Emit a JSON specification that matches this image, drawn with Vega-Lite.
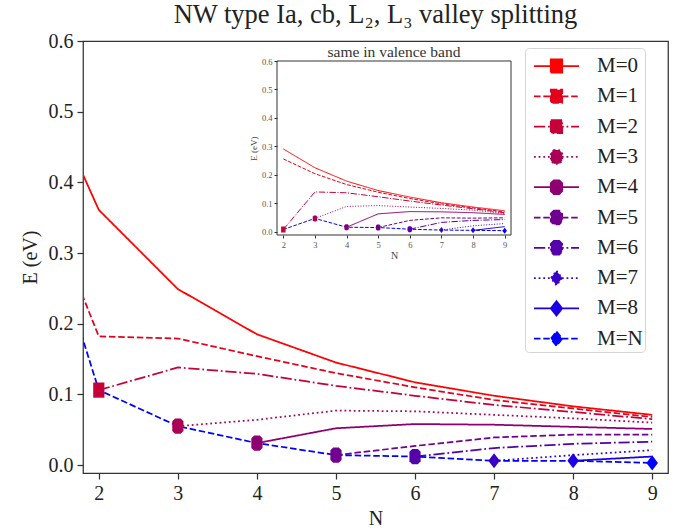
{
  "$schema": "https://vega.github.io/schema/vega-lite/v6.json",
  "autosize": "none",
  "width": 585,
  "height": 432,
  "padding": {"left": 83, "top": 41, "right": 14, "bottom": 58},
  "background": "white",
  "title": {"text": "NW type Ia, cb, L₂, L₃ valley splitting", "font": "Liberation Serif", "fontSize": 26.5, "fontWeight": "normal", "color": "#222", "offset": -18, "baseline": "alphabetic", "anchor": "middle", "frame": "group"},
  "config": {"view": {"stroke": "#333", "strokeWidth": 1.25}, "font": "Liberation Serif"},
  "datasets": {
    "cb": [
      {"M": "M=0", "N": 1, "E": 0.61}, {"M": "M=0", "N": 2, "E": 0.361}, {"M": "M=0", "N": 3, "E": 0.249}, {"M": "M=0", "N": 4, "E": 0.185}, {"M": "M=0", "N": 5, "E": 0.145}, {"M": "M=0", "N": 6, "E": 0.117}, {"M": "M=0", "N": 7, "E": 0.098}, {"M": "M=0", "N": 8, "E": 0.083}, {"M": "M=0", "N": 9, "E": 0.071},
      {"M": "M=1", "N": 1, "E": 0.462}, {"M": "M=1", "N": 2, "E": 0.182}, {"M": "M=1", "N": 3, "E": 0.179}, {"M": "M=1", "N": 4, "E": 0.154}, {"M": "M=1", "N": 5, "E": 0.130}, {"M": "M=1", "N": 6, "E": 0.110}, {"M": "M=1", "N": 7, "E": 0.092}, {"M": "M=1", "N": 8, "E": 0.080}, {"M": "M=1", "N": 9, "E": 0.068},
      {"M": "M=2", "N": 2, "E": 0.106}, {"M": "M=2", "N": 3, "E": 0.138}, {"M": "M=2", "N": 4, "E": 0.129}, {"M": "M=2", "N": 5, "E": 0.112}, {"M": "M=2", "N": 6, "E": 0.098}, {"M": "M=2", "N": 7, "E": 0.085}, {"M": "M=2", "N": 8, "E": 0.075}, {"M": "M=2", "N": 9, "E": 0.065},
      {"M": "M=3", "N": 3, "E": 0.055}, {"M": "M=3", "N": 4, "E": 0.064}, {"M": "M=3", "N": 5, "E": 0.077}, {"M": "M=3", "N": 6, "E": 0.076}, {"M": "M=3", "N": 7, "E": 0.071}, {"M": "M=3", "N": 8, "E": 0.066}, {"M": "M=3", "N": 9, "E": 0.060},
      {"M": "M=4", "N": 4, "E": 0.031}, {"M": "M=4", "N": 5, "E": 0.052}, {"M": "M=4", "N": 6, "E": 0.058}, {"M": "M=4", "N": 7, "E": 0.057}, {"M": "M=4", "N": 8, "E": 0.054}, {"M": "M=4", "N": 9, "E": 0.051},
      {"M": "M=5", "N": 5, "E": 0.014}, {"M": "M=5", "N": 6, "E": 0.027}, {"M": "M=5", "N": 7, "E": 0.039}, {"M": "M=5", "N": 8, "E": 0.043}, {"M": "M=5", "N": 9, "E": 0.043},
      {"M": "M=6", "N": 6, "E": 0.012}, {"M": "M=6", "N": 7, "E": 0.024}, {"M": "M=6", "N": 8, "E": 0.030}, {"M": "M=6", "N": 9, "E": 0.033},
      {"M": "M=7", "N": 7, "E": 0.006}, {"M": "M=7", "N": 8, "E": 0.014}, {"M": "M=7", "N": 9, "E": 0.021},
      {"M": "M=8", "N": 8, "E": 0.006}, {"M": "M=8", "N": 9, "E": 0.012},
      {"M": "M=N", "N": 1, "E": 0.462}, {"M": "M=N", "N": 2, "E": 0.106}, {"M": "M=N", "N": 3, "E": 0.055}, {"M": "M=N", "N": 4, "E": 0.031}, {"M": "M=N", "N": 5, "E": 0.014}, {"M": "M=N", "N": 6, "E": 0.012}, {"M": "M=N", "N": 7, "E": 0.006}, {"M": "M=N", "N": 8, "E": 0.006}, {"M": "M=N", "N": 9, "E": 0.003}
    ],
    "vb": [
      {"M": "M=0", "N": 2, "E": 0.291}, {"M": "M=0", "N": 3, "E": 0.225}, {"M": "M=0", "N": 4, "E": 0.178}, {"M": "M=0", "N": 5, "E": 0.145}, {"M": "M=0", "N": 6, "E": 0.122}, {"M": "M=0", "N": 7, "E": 0.102}, {"M": "M=0", "N": 8, "E": 0.087}, {"M": "M=0", "N": 9, "E": 0.074},
      {"M": "M=1", "N": 2, "E": 0.256}, {"M": "M=1", "N": 3, "E": 0.204}, {"M": "M=1", "N": 4, "E": 0.166}, {"M": "M=1", "N": 5, "E": 0.139}, {"M": "M=1", "N": 6, "E": 0.117}, {"M": "M=1", "N": 7, "E": 0.098}, {"M": "M=1", "N": 8, "E": 0.084}, {"M": "M=1", "N": 9, "E": 0.070},
      {"M": "M=2", "N": 2, "E": 0.008}, {"M": "M=2", "N": 3, "E": 0.140}, {"M": "M=2", "N": 4, "E": 0.137}, {"M": "M=2", "N": 5, "E": 0.123}, {"M": "M=2", "N": 6, "E": 0.108}, {"M": "M=2", "N": 7, "E": 0.094}, {"M": "M=2", "N": 8, "E": 0.081}, {"M": "M=2", "N": 9, "E": 0.067},
      {"M": "M=3", "N": 3, "E": 0.047}, {"M": "M=3", "N": 4, "E": 0.089}, {"M": "M=3", "N": 5, "E": 0.092}, {"M": "M=3", "N": 6, "E": 0.087}, {"M": "M=3", "N": 7, "E": 0.082}, {"M": "M=3", "N": 8, "E": 0.076}, {"M": "M=3", "N": 9, "E": 0.064},
      {"M": "M=4", "N": 4, "E": 0.016}, {"M": "M=4", "N": 5, "E": 0.063}, {"M": "M=4", "N": 6, "E": 0.071}, {"M": "M=4", "N": 7, "E": 0.070}, {"M": "M=4", "N": 8, "E": 0.067}, {"M": "M=4", "N": 9, "E": 0.061},
      {"M": "M=5", "N": 5, "E": 0.015}, {"M": "M=5", "N": 6, "E": 0.040}, {"M": "M=5", "N": 7, "E": 0.049}, {"M": "M=5", "N": 8, "E": 0.048}, {"M": "M=5", "N": 9, "E": 0.049},
      {"M": "M=6", "N": 6, "E": 0.009}, {"M": "M=6", "N": 7, "E": 0.033}, {"M": "M=6", "N": 8, "E": 0.040}, {"M": "M=6", "N": 9, "E": 0.043},
      {"M": "M=7", "N": 7, "E": 0.006}, {"M": "M=7", "N": 8, "E": 0.021}, {"M": "M=7", "N": 9, "E": 0.029},
      {"M": "M=8", "N": 8, "E": 0.005}, {"M": "M=8", "N": 9, "E": 0.018},
      {"M": "M=N", "N": 2, "E": 0.008}, {"M": "M=N", "N": 3, "E": 0.047}, {"M": "M=N", "N": 4, "E": 0.016}, {"M": "M=N", "N": 5, "E": 0.015}, {"M": "M=N", "N": 6, "E": 0.009}, {"M": "M=N", "N": 7, "E": 0.006}, {"M": "M=N", "N": 8, "E": 0.005}, {"M": "M=N", "N": 9, "E": 0.004}
    ]
  },
  "resolve": {
    "scale": {"x": "independent", "y": "independent", "color": "independent", "strokeDash": "independent"},
    "axis": {"x": "independent", "y": "independent"}
  },
  "layer": [
    {
      "name": "main",
      "data": {"name": "cb"},
      "encoding": {
        "x": {"field": "N", "type": "quantitative",
          "scale": {"domain": [1.8, 9.2], "nice": false, "zero": false},
          "axis": {"values": [2, 3, 4, 5, 6, 7, 8, 9], "format": "d", "title": "N", "grid": false, "domain": false,
            "labelFontSize": 20, "titleFontSize": 20, "titleFontWeight": "normal", "labelColor": "#222", "titleColor": "#222",
            "tickSize": 6, "tickWidth": 1.25, "tickColor": "#333", "labelPadding": 4, "titlePadding": 5, "labelFont": "Liberation Serif", "titleFont": "Liberation Serif"}},
        "y": {"field": "E", "type": "quantitative",
          "scale": {"domain": [-0.0113, 0.6], "nice": false, "zero": false},
          "axis": {"values": [0, 0.1, 0.2, 0.3, 0.4, 0.5, 0.6], "format": ".1f", "title": "E (eV)", "grid": false, "domain": false,
            "labelFontSize": 20, "titleFontSize": 20, "titleFontWeight": "normal", "labelColor": "#222", "titleColor": "#222",
            "tickSize": 6, "tickWidth": 1.25, "tickColor": "#333", "labelPadding": 4, "titlePadding": 8, "labelFont": "Liberation Serif", "titleFont": "Liberation Serif"}},
        "color": {"field": "M", "type": "nominal",
          "scale": {"domain": ["M=0", "M=1", "M=2", "M=3", "M=4", "M=5", "M=6", "M=7", "M=8", "M=N"],
                    "range": ["#ff0000", "#e3001c", "#c60039", "#aa0055", "#8e0071", "#71008e", "#5500aa", "#3900c6", "#1c00e3", "#0000ff"]},
          "legend": {
            "orient": "none", "legendX": 442, "legendY": 7, "title": null,
            "symbolSize": 900, "symbolStrokeWidth": 1.75, "symbolType": "M-0.6,0H2.4M0.54,-0.44H1.26V0.44H0.54Z",
            "labelFontSize": 21, "labelFont": "Liberation Serif", "labelColor": "#222", "labelOffset": 38,
            "padding": 2, "rowPadding": 3.3,
            "fillColor": "white", "strokeColor": "#d5d5d5", "cornerRadius": 4,
            "encode": {"symbols": {"update": {
              "shape": {"signal": "indexof(['M=0','M=1','M=2'], datum.value) >= 0 ? 'M-0.6,0H2.4M0.52,-0.44H1.28V0.44H0.52Z' : (indexof(['M=3','M=4','M=5','M=6'], datum.value) >= 0 ? 'M-0.6,0H2.4M0.72,-0.46H1.08L1.28,-0.26V0.26L1.08,0.46H0.72L0.52,0.26V-0.26Z' : 'M-0.6,0H2.4M0.9,-0.48L1.28,0L0.9,0.48L0.52,0Z')"},
              "fill": {"signal": "['#ff0000','#e3001c','#c60039','#aa0055','#8e0071','#71008e','#5500aa','#3900c6','#1c00e3','#0000ff'][indexof(['M=0','M=1','M=2','M=3','M=4','M=5','M=6','M=7','M=8','M=N'], datum.value)]"},
              "fillOpacity": {"value": 1}
            }}}
          }}
      },
      "layer": [
        {
          "mark": {"type": "line", "clip": true, "strokeWidth": 1.75},
          "encoding": {
            "strokeDash": {"field": "M", "type": "nominal",
              "scale": {"domain": ["M=0", "M=1", "M=2", "M=3", "M=4", "M=5", "M=6", "M=7", "M=8", "M=N"],
                        "range": [[1, 0], [6.5, 2.8], [11.2, 2.8, 1.75, 2.8], [1.75, 2.9], [1, 0], [6.5, 2.8], [11.2, 2.8, 1.75, 2.8], [1.75, 2.9], [1, 0], [6.5, 2.8]]}}
          }
        },
        {
          "transform": [{"filter": "datum.M == 'M=' + datum.N && indexof(['M=0','M=1','M=2'], datum.M) >= 0"}],
          "mark": {"type": "point", "filled": true, "opacity": 1, "size": 256, "clip": true, "strokeWidth": 0, "shape": "M-0.7,-0.95H0.7V0.95H-0.7Z"}
        },
        {
          "transform": [{"filter": "datum.M == 'M=' + datum.N && indexof(['M=3','M=4','M=5','M=6'], datum.M) >= 0"}],
          "mark": {"type": "point", "filled": true, "opacity": 1, "size": 256, "clip": true, "strokeWidth": 0, "shape": "M-0.35,-0.95H0.35L0.7,-0.6V0.6L0.35,0.95H-0.35L-0.7,0.6V-0.6Z"}
        },
        {
          "transform": [{"filter": "(datum.M == 'M=' + datum.N && indexof(['M=7','M=8'], datum.M) >= 0) || (datum.M == 'M=N' && datum.N == 9)"}],
          "mark": {"type": "point", "filled": true, "opacity": 1, "size": 256, "clip": true, "strokeWidth": 0, "shape": "M0,-0.95L0.72,0L0,0.95L-0.72,0Z"}
        }
      ]
    },
    {
      "name": "inset",
      "data": {"name": "vb"},
      "encoding": {
        "x": {"field": "N", "type": "quantitative",
          "scale": {"domain": [1.8, 9.2], "nice": false, "zero": false, "range": [194, 428]},
          "axis": {"orient": "bottom", "offset": -238, "zindex": 1, "values": [2, 3, 4, 5, 6, 7, 8, 9], "format": "d", "title": "N", "grid": false, "domain": false,
            "labelFontSize": 8.5, "titleFontSize": 10, "titleFontWeight": "normal", "labelColor": "#555", "titleColor": "#444",
            "tickSize": 3, "tickWidth": 1, "tickColor": "#333", "labelPadding": 2, "titlePadding": 2, "labelFont": "Liberation Serif", "titleFont": "Liberation Serif"}},
        "y": {"field": "E", "type": "quantitative",
          "scale": {"domain": [-0.0113, 0.6], "nice": false, "zero": false, "range": [194, 20]},
          "axis": {"orient": "left", "offset": -194, "zindex": 1, "values": [0, 0.1, 0.2, 0.3, 0.4, 0.5, 0.6], "format": ".1f", "title": "E (eV)", "grid": false, "domain": false,
            "labelFontSize": 8.5, "titleFontSize": 9, "titleFontWeight": "normal", "labelColor": "#555", "titleColor": "#444",
            "tickSize": 3, "tickWidth": 1, "tickColor": "#333", "labelPadding": 2, "titlePadding": 3, "labelFont": "Liberation Serif", "titleFont": "Liberation Serif"}}
      },
      "layer": [
        {
          "transform": [{"filter": "datum.M == 'M=0' && datum.N == 2"}],
          "mark": {"type": "rect", "fill": "white", "stroke": "#333", "strokeWidth": 1},
          "encoding": {
            "x": {"datum": 1.8, "type": "quantitative"},
            "x2": {"datum": 9.2},
            "y": {"datum": -0.0113, "type": "quantitative"},
            "y2": {"datum": 0.6}
          }
        },
        {
          "mark": {"type": "line", "strokeWidth": 1},
          "encoding": {
            "color": {"field": "M", "type": "nominal", "legend": null,
              "scale": {"domain": ["M=0", "M=1", "M=2", "M=3", "M=4", "M=5", "M=6", "M=7", "M=8", "M=N"],
                        "range": ["#ff0000", "#e3001c", "#c60039", "#aa0055", "#8e0071", "#71008e", "#5500aa", "#3900c6", "#1c00e3", "#0000ff"]}},
            "strokeDash": {"field": "M", "type": "nominal", "legend": null,
              "scale": {"domain": ["M=0", "M=1", "M=2", "M=3", "M=4", "M=5", "M=6", "M=7", "M=8", "M=N"],
                        "range": [[1, 0], [3.7, 1.6], [6.4, 1.6, 1, 1.6], [1, 1.65], [1, 0], [3.7, 1.6], [6.4, 1.6, 1, 1.6], [1, 1.65], [1, 0], [3.7, 1.6]]}}
          }
        },
        {
          "transform": [{"filter": "datum.M == 'M=' + datum.N && indexof(['M=0','M=1','M=2'], datum.M) >= 0"}],
          "mark": {"type": "point", "filled": true, "opacity": 1, "size": 40, "strokeWidth": 0, "shape": "M-0.7,-0.95H0.7V0.95H-0.7Z"},
          "encoding": {"color": {"field": "M", "type": "nominal", "legend": null}}
        },
        {
          "transform": [{"filter": "datum.M == 'M=' + datum.N && indexof(['M=3','M=4','M=5','M=6'], datum.M) >= 0"}],
          "mark": {"type": "point", "filled": true, "opacity": 1, "size": 40, "strokeWidth": 0, "shape": "M-0.35,-0.95H0.35L0.7,-0.6V0.6L0.35,0.95H-0.35L-0.7,0.6V-0.6Z"},
          "encoding": {"color": {"field": "M", "type": "nominal", "legend": null}}
        },
        {
          "transform": [{"filter": "(datum.M == 'M=' + datum.N && indexof(['M=7','M=8'], datum.M) >= 0) || (datum.M == 'M=N' && datum.N == 9)"}],
          "mark": {"type": "point", "filled": true, "opacity": 1, "size": 40, "strokeWidth": 0, "shape": "M0,-0.95L0.72,0L0,0.95L-0.72,0Z"},
          "encoding": {"color": {"field": "M", "type": "nominal", "legend": null}}
        },
        {
          "transform": [{"filter": "datum.M == 'M=0' && datum.N == 2"}],
          "mark": {"type": "text", "text": "same in valence band", "fontSize": 15.5, "font": "Liberation Serif", "fontWeight": "normal", "color": "#333", "baseline": "bottom", "dy": -1},
          "encoding": {
            "x": {"datum": 5.5, "type": "quantitative"},
            "y": {"datum": 0.6, "type": "quantitative"}
          }
        }
      ]
    }
  ]
}
